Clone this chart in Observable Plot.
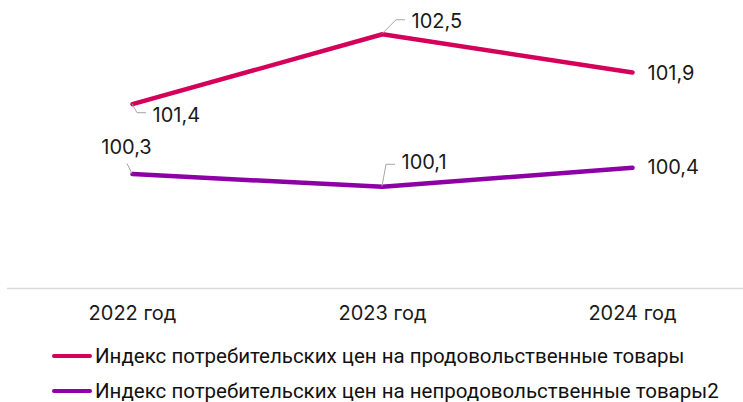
<!DOCTYPE html>
<html>
<head>
<meta charset="utf-8">
<script src="https://cdn.jsdelivr.net/npm/d3@7"></script>
<script src="https://cdn.jsdelivr.net/npm/@observablehq/plot@0.6"></script>
<style>
  html, body { margin: 0; padding: 0; background: #fff; }
  body { width: 743px; height: 402px; overflow: hidden; font-family: Inter, Roboto, sans-serif; }
  #chart svg { display: block; }
  .legend { position: relative; margin-top: 0; font-family: Roboto, sans-serif; font-size: 20.5px; color: #111; }
  .legend .row { display: flex; align-items: center; height: 35px; padding-left: 52px; white-space: nowrap; }
  .legend .sw { width: 40px; height: 4px; border-radius: 2px; margin-right: 3px; flex: none; }
</style>
</head>
<body>
<div id="chart"></div>
<div class="legend" id="legend"></div>
<script>
// ---- data ----
const years = ["2022 год", "2023 год", "2024 год"];
const seriesNames = [
  "Индекс потребительских цен на продовольственные товары",
  "Индекс потребительских цен на непродовольственные товары2"
];
const foodValues = [101.4, 102.5, 101.9];
const nonFoodValues = [100.3, 100.1, 100.4];

// ---- styling / layout (not data) ----
const colors = ["#d5005a", "#8c00a6"];
// per-label placement: offsets in px from the point, and leader path offsets
const labelLayout = [
  [ {dx: 20, dy: 11, anchor: "start", leader: [[0,0],[5,9],[14,9]]},
    {dx: 29, dy: -13, anchor: "start", leader: [[0,0],[14,-14],[23,-14]]},
    {dx: 15, dy: 1, anchor: "start", leader: null} ],
  [ {dx: -6, dy: -27, anchor: "middle", leader: [[0,0],[-5,-10]]},
    {dx: 19, dy: -24, anchor: "start", leader: [[0,0],[4,-22],[13,-22]]},
    {dx: 15, dy: 0, anchor: "start", leader: null} ]
];

const seriesValues = [foodValues, nonFoodValues];
const data = [];
seriesValues.forEach((vals, s) => vals.forEach((v, i) => data.push({year: years[i], value: v, series: seriesNames[s], s, i})));

const fmt = v => v.toFixed(1).replace(".", ",");

const labelMarks = data.map(d => {
  const L = labelLayout[d.s][d.i];
  return Plot.text([d], {x: "year", y: "value", text: d => fmt(d.value), dx: L.dx, dy: L.dy,
    textAnchor: L.anchor, fontSize: 20, fill: "#1a1a1a"});
});

const leaderMark = (index, scales) => {
  const g = d3.create("svg:g").attr("fill", "none").attr("stroke", "#a6a6a6").attr("stroke-width", 1);
  data.forEach(d => {
    const L = labelLayout[d.s][d.i];
    if (!L.leader) return;
    const x0 = scales.x(d.year), y0 = scales.y(d.value);
    g.append("path").attr("d", d3.line()(L.leader.map(([a, b]) => [x0 + a, y0 + b])));
  });
  return g.node();
};

const chart = Plot.plot({
  width: 743,
  height: 338,
  marginLeft: 7,
  marginRight: 0,
  marginTop: 2,
  marginBottom: 50,
  style: {fontFamily: "Inter, Roboto, sans-serif", background: "#fff"},
  x: {type: "point", domain: years, range: [132, 632], padding: 0, label: null},
  y: {domain: [98.5, 103], axis: null},
  color: {domain: seriesNames, range: colors},
  marks: [
    Plot.ruleY([98.5], {stroke: "#d9d9d9", strokeWidth: 1.5}),
    Plot.axisX({tickSize: 0, tickPadding: 17, fontSize: 20, color: "#1a1a1a", label: null}),
    Plot.line(data, {x: "year", y: "value", z: "series", stroke: "series", strokeWidth: 4.5, strokeLinejoin: "round", strokeLinecap: "round"}),
    leaderMark,
    ...labelMarks
  ]
});
document.getElementById("chart").append(chart);

const legend = document.getElementById("legend");
seriesNames.forEach((n, i) => {
  const row = document.createElement("div");
  row.className = "row";
  row.innerHTML = `<span class="sw" style="background:${colors[i]}"></span><span></span>`;
  row.lastChild.textContent = n;
  legend.append(row);
});
</script>
</body>
</html>
